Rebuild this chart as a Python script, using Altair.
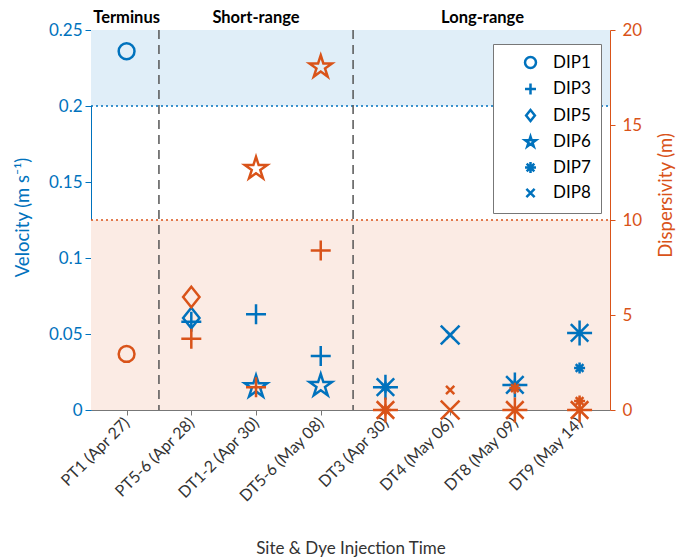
import math
import altair as alt
import pandas as pd

# ---------------- data ----------------
sites = ["PT1 (Apr 27)", "PT5-6 (Apr 28)", "DT1-2 (Apr 30)", "DT5-6 (May 08)",
         "DT3 (Apr 30)", "DT4 (May 06)", "DT8 (May 09)", "DT9 (May 14)"]
sections = ["Terminus", "Short-range", "Long-range"]
section_sizes = [1, 3, 4]
dips = ["DIP1", "DIP3", "DIP5", "DIP6", "DIP7", "DIP8"]

pt_site = [0, 1, 1, 2, 2, 3, 3, 4, 4, 5, 5, 6, 6, 7, 7]
pt_dip = ["DIP1", "DIP5", "DIP3", "DIP3", "DIP6", "DIP3", "DIP6",
          "DIP7", "DIP7", "DIP8", "DIP8", "DIP7", "DIP7", "DIP7", "DIP7"]
pt_kind = ["main", "main", "main", "main", "main", "main", "main",
           "main", "minor", "main", "minor", "main", "minor", "main", "minor"]
velocity = [0.236, 0.0605, 0.058, 0.063, 0.0152, 0.0355, 0.0160,
            0.0150, 0.0150, 0.0493, 0.0493, 0.0165, 0.0165, 0.0507, 0.0276]
dispersivity = [2.95, 5.95, 3.75, 1.2, 12.7, 8.4, 18.05,
                0.0, 0.0, 0.0, 1.05, 0.0, 1.15, 0.0, 0.47]

vel_ticks = [0, 0.05, 0.1, 0.15, 0.2, 0.25]
disp_ticks = [0, 5, 10, 15, 20]
vel_band = [0.2, 0.25]
disp_band = [0, 10]

# ---------------- style ----------------
BLUE = "#0072BD"
ORANGE = "#D95319"
W, H = 519, 380
FONT = "Lato"


def star_path(n=5, r_in=0.38):
    pts = []
    for i in range(2 * n):
        r = 1.0 if i % 2 == 0 else r_in
        a = math.radians(-90 + 36 * i)
        pts.append(f"{r * math.cos(a):.3f},{r * math.sin(a):.3f}")
    return "M" + "L".join(pts) + "Z"


PLUS = "M-1,0L1,0M0,-1L0,1"
DIAMOND = "M0,-1L0.8,0L0,1L-0.8,0Z"
ASTER = "M-1,0L1,0M0,-1L0,1M-0.7,-0.7L0.7,0.7M-0.7,0.7L0.7,-0.7"
XMARK = "M-0.75,-0.75L0.75,0.75M-0.75,0.75L0.75,-0.75"
shape_range = ["circle", PLUS, DIAMOND, star_path(), ASTER, XMARK]
main_size = {"DIP1": 250, "DIP3": 400, "DIP5": 420, "DIP6": 560, "DIP7": 625, "DIP8": 625}
MINOR_SIZE = 121

pts = pd.DataFrame({
    "x": [s + 1 for s in pt_site],
    "dip": pt_dip,
    "kind": pt_kind,
    "velocity": velocity,
    "dispersivity": dispersivity,
})
pts["size"] = [main_size[d] if k == "main" else MINOR_SIZE for d, k in zip(pt_dip, pt_kind)]

bounds, centers = [], []
acc = 0
for n in section_sizes:
    centers.append(acc + (n + 1) / 2)
    acc += n
    bounds.append(acc + 0.5)
bounds = bounds[:-1]

x_scale = alt.Scale(domain=[0.45, 8.47], nice=False, zero=False)
label_expr = "[" + ",".join("'" + s + "'" for s in sites) + "][datum.value - 1]"
x_axis = alt.Axis(values=list(range(1, len(sites) + 1)), labelExpr=label_expr,
                  labelAngle=-45, labelAlign="right", labelBaseline="middle",
                  labelFontSize=16, labelFont=FONT, labelColor="#333", labelPadding=5,
                  labelOverlap=False, tickColor="#777", domainColor="#777", tickSize=5,
                  grid=False, title="Site & Dye Injection Time", titleFont=FONT,
                  titleFontSize=17, titleFontWeight="normal", titleColor="#333",
                  titleY=138, titleBaseline="middle")
X_ENC = alt.X("x:Q", scale=x_scale, axis=x_axis)

vel_scale = alt.Scale(domain=[0, 0.25], nice=False, zero=False)
disp_scale = alt.Scale(domain=[0, 20], nice=False, zero=False)

vel_axis = alt.Axis(orient="left", values=vel_ticks, format=".2~f", grid=False,
                    labelColor=BLUE, domainColor=BLUE, tickColor=BLUE, labelFont=FONT,
                    labelFontSize=17, tickSize=6, labelPadding=3,
                    title="Velocity (m s⁻¹)", titleColor=BLUE, titleFont=FONT,
                    titleFontSize=18.5, titleFontWeight="normal", titleAngle=270,
                    titleX=-69, titleY=187, titleBaseline="middle", titleAlign="center")
disp_axis = alt.Axis(orient="right", values=disp_ticks, grid=False,
                     labelColor=ORANGE, domainColor=ORANGE, tickColor=ORANGE, labelFont=FONT,
                     labelFontSize=17, tickSize=5, labelPadding=7,
                     title="Dispersivity (m)", titleColor=ORANGE, titleFont=FONT,
                     titleFontSize=18.5, titleFontWeight="normal", titleAngle=270,
                     titleX=55, titleY=165, titleBaseline="middle", titleAlign="center")

legend = alt.Legend(title=None, orient="none", legendX=402, legendY=14, padding=10,
                    strokeColor="#777", fillColor="white", symbolSize=120,
                    symbolStrokeWidth=2.5, symbolStrokeColor=BLUE,
                    labelFontSize=17, labelFont=FONT, labelColor="black",
                    rowPadding=5.5, symbolOffset=19, labelOffset=14)

shape_scale = alt.Scale(domain=dips, range=shape_range)

blue_band = alt.Chart(pd.DataFrame({"lo": [vel_band[0]], "hi": [vel_band[1]]})).mark_rect(
    color="#E0EEF8").encode(
    x=alt.value(0), x2=alt.value(W),
    y=alt.Y("lo:Q", scale=vel_scale, axis=None), y2="hi:Q")
orange_band = alt.Chart(pd.DataFrame({"lo": [disp_band[0]], "hi": [disp_band[1]]})).mark_rect(
    color="#FBEBE4").encode(
    x=alt.value(0), x2=alt.value(W),
    y=alt.Y("lo:Q", scale=disp_scale, axis=None), y2="hi:Q")
blue_line = alt.Chart(pd.DataFrame({"v": [vel_band[0]]})).mark_rule(
    color=BLUE, strokeDash=[2, 3], strokeWidth=1.4).encode(
    x=alt.value(0), x2=alt.value(W), y=alt.Y("v:Q", scale=vel_scale, axis=None))
orange_line = alt.Chart(pd.DataFrame({"v": [disp_band[1]]})).mark_rule(
    color=ORANGE, strokeDash=[2, 3], strokeWidth=1.4).encode(
    x=alt.value(0), x2=alt.value(W), y=alt.Y("v:Q", scale=disp_scale, axis=None))
dividers = alt.Chart(pd.DataFrame({"x": bounds})).mark_rule(
    color="#555", strokeDash=[9, 6], strokeWidth=1.5).encode(x=X_ENC)
sec_labels = alt.Chart(pd.DataFrame({"x": centers, "label": sections})).mark_text(
    font=FONT, fontSize=16.5, fontWeight="bold", color="black", baseline="middle").encode(
    x=X_ENC, y=alt.value(-12), text="label:N")

vel_pts = alt.Chart(pts).mark_point(filled=False, strokeWidth=2.5, color=BLUE, opacity=1).encode(
    x=X_ENC,
    y=alt.Y("velocity:Q", scale=vel_scale, axis=vel_axis),
    shape=alt.Shape("dip:N", scale=shape_scale, legend=legend),
    size=alt.Size("size:Q", scale=None, legend=None))
disp_pts = alt.Chart(pts).mark_point(filled=False, strokeWidth=2.5, color=ORANGE, opacity=1).encode(
    x=X_ENC,
    y=alt.Y("dispersivity:Q", scale=disp_scale, axis=disp_axis),
    shape=alt.Shape("dip:N", scale=shape_scale, legend=None),
    size=alt.Size("size:Q", scale=None, legend=None))

chart = alt.layer(blue_band, orange_band, blue_line, orange_line, dividers, sec_labels,
                  vel_pts, disp_pts).resolve_scale(
    y="independent", shape="independent").properties(
    width=W, height=H,
    padding={"left": 91, "top": 30, "right": 67, "bottom": 148},
    autosize=alt.AutoSizeParams(type="none"),
    background="white").configure_view(stroke=None)

chart.save("out.html", embed_options={"renderer": "svg", "actions": False})
